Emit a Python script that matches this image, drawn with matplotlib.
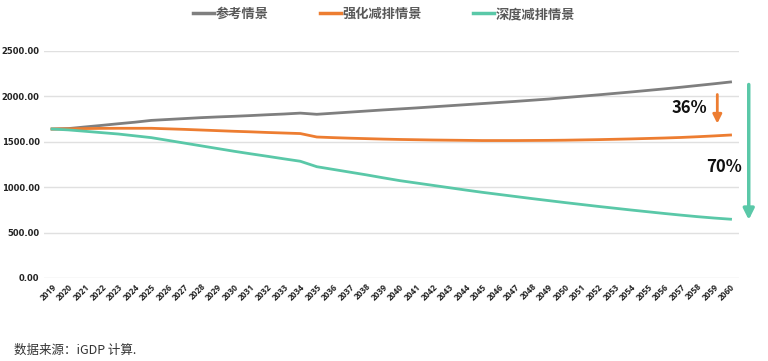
import matplotlib.pyplot as plt

plt.rcParams['font.family'] = ['Noto Sans CJK SC', 'DejaVu Sans']

years = list(range(2019, 2061))
ref = [1640, 1645, 1663, 1680, 1698, 1715, 1735, 1745, 1755, 1765, 1773, 1780, 1788, 1797, 1805, 1815,
       1802, 1814, 1826, 1838, 1850, 1861, 1872, 1884, 1896, 1908, 1920, 1932, 1944, 1957, 1970, 1986,
       2001, 2016, 2032, 2048, 2065, 2082, 2100, 2119, 2138, 2158]
strong = [1640, 1642, 1645, 1647, 1648, 1648, 1648, 1642, 1636, 1629, 1622, 1615, 1609, 1602, 1596, 1590,
          1552, 1545, 1539, 1534, 1529, 1525, 1522, 1519, 1517, 1515, 1513, 1513, 1513, 1514, 1515, 1517,
          1520, 1523, 1527, 1531, 1536, 1541, 1547, 1555, 1564, 1574]
deep = [1640, 1630, 1615, 1600, 1585, 1565, 1545, 1515, 1485, 1455, 1425, 1395, 1367, 1340, 1312, 1285,
        1225, 1195, 1165, 1135, 1103, 1072, 1046, 1020, 994, 968, 943, 920, 897, 874, 852, 830,
        809, 788, 768, 748, 729, 710, 692, 675, 660, 647]
labels = ['参考情景', '强化减排情景', '深度减排情景']
colors = ['#7f7f7f', '#ed7d31', '#5ac8a8']

fig = plt.figure(figsize=(7.68, 3.61), dpi=100)
ax = fig.add_axes([0.057, 0.230, 0.905, 0.629])

for vals, lab, c in zip([ref, strong, deep], labels, colors):
    ax.plot(years, vals, color=c, lw=2, label=lab)

ax.set_xlim(2018.5, 2060.5)
ax.set_ylim(0, 2500)
ax.set_yticks([0, 500, 1000, 1500, 2000, 2500])
ax.set_yticklabels(['%.2f' % v for v in [0, 500, 1000, 1500, 2000, 2500]],
                   fontsize=6, fontweight='bold', family='DejaVu Sans')
ax.set_xticks(years)
ax.set_xticklabels([str(y) for y in years], rotation=45, ha='right', rotation_mode='anchor',
                   fontsize=6, fontweight='bold', family='Open Sans')
ax.tick_params(length=0, pad=3, colors='#222222')
ax.grid(axis='y', color='#e0e0e0', lw=1)
ax.set_axisbelow(True)
for s in ax.spines.values():
    s.set_visible(False)

leg = fig.legend(loc='center', bbox_to_anchor=(0.5, 0.961), ncol=3, frameon=False,
                 prop={'size': 9.5, 'weight': 'bold'}, handlelength=1.6, handletextpad=0.1,
                 columnspacing=3.9)
for t in leg.get_texts():
    t.set_color('#595959')
for h in leg.legend_handles:
    h.set_linewidth(2.5)

# reduction arrows
ax.annotate('', xy=(2059.2, 1700), xytext=(2059.2, 2020), annotation_clip=False,
            arrowprops=dict(arrowstyle='-|>', color='#ed7d31', lw=2, mutation_scale=13, shrinkA=0, shrinkB=0))
ax.text(2057.5, 1870, '36%', fontsize=12, fontweight='bold', ha='center', va='center', color='#111111')
ax.annotate('', xy=(2061.1, 640), xytext=(2061.1, 2130), annotation_clip=False,
            arrowprops=dict(arrowstyle='-|>', color='#5ac8a8', lw=2.5, mutation_scale=16, shrinkA=0, shrinkB=0))
ax.text(2059.6, 1222, '70%', fontsize=12, fontweight='bold', ha='center', va='center', color='#111111')

fig.text(0.018, 0.03, '数据来源：iGDP 计算.', fontsize=9, color='#333333', ha='left', va='center')

fig.savefig('out.png', dpi=100)
